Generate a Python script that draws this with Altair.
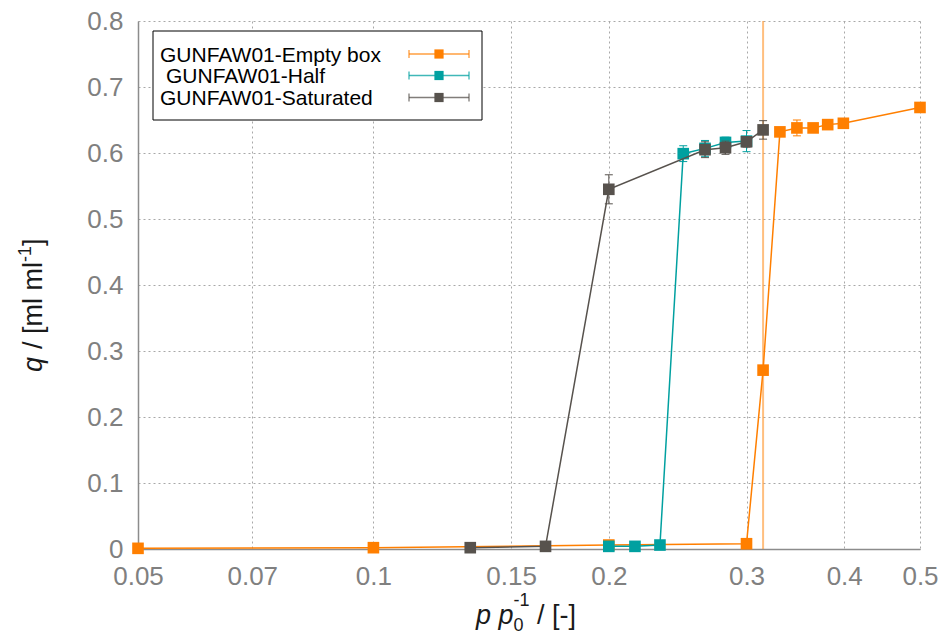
import altair as alt
import pandas as pd

# ---------------- data ----------------
series_names = ["GUNFAW01-Empty box", "GUNFAW01-Half", "GUNFAW01-Saturated"]
legend_labels = ["GUNFAW01-Empty box", "GUNFAW01-Half", "GUNFAW01-Saturated"]
legend_indent = [0, 6, 0]
series_colors = ["#ff7f00", "#00a0a0", "#57524d"]

empty_x = [0.05, 0.1, 0.2, 0.3, 0.315, 0.331, 0.348, 0.365, 0.381, 0.399, 0.5]
empty_q = [0.001, 0.002, 0.006, 0.008, 0.271, 0.632, 0.638, 0.638, 0.643, 0.645, 0.669]
empty_err = [0, 0, 0, 0, 0, 0.006, 0.012, 0.006, 0.006, 0.004, 0.004]

half_x = [0.2, 0.216, 0.2325, 0.249, 0.2655, 0.282, 0.3]
half_q = [0.004, 0.004, 0.006, 0.599, 0.607, 0.616, 0.618]
half_err = [0, 0, 0, 0.012, 0.012, 0.008, 0.016]

sat_x = [0.133, 0.166, 0.2, 0.2655, 0.282, 0.3, 0.315]
sat_q = [0.002, 0.004, 0.545, 0.605, 0.608, 0.617, 0.635]
sat_err = [0, 0, 0.022, 0.012, 0.010, 0.008, 0.014]

marker_x = [0.315]

x_ticks = [0.05, 0.07, 0.1, 0.15, 0.2, 0.3, 0.4, 0.5]
y_ticks = [0, 0.1, 0.2, 0.3, 0.4, 0.5, 0.6, 0.7, 0.8]

# ---------------- helpers ----------------
xscale = alt.Scale(type="log", domain=[0.05, 0.5], nice=False)
yscale = alt.Scale(domain=[0, 0.8], nice=False, zero=False)
xaxis = alt.Axis(values=x_ticks, format="~g", title=None, labelOverlap=False,
                 labelFlush=False, labelPadding=14)
yaxis = alt.Axis(values=y_ticks, format="~g", title=None, labelOverlap=False,
                 labelFlush=False, labelPadding=15)


def X(field="x"):
    return alt.X(f"{field}:Q", scale=xscale, axis=xaxis)


def Y(field="q"):
    return alt.Y(f"{field}:Q", scale=yscale, axis=yaxis)


one_row = pd.DataFrame({"k": [0]})
series_data = [(empty_x, empty_q, empty_err), (half_x, half_q, half_err), (sat_x, sat_q, sat_err)]

layers = []

# vertical marker line
layers.append(
    alt.Chart(pd.DataFrame({"x": marker_x}))
    .mark_rule(color="#ff7f00", opacity=0.5, strokeWidth=2)
    .encode(x=X("x"))
)

for (xs, qs, es), name, col in zip(series_data, series_names, series_colors):
    d = pd.DataFrame({"x": xs, "q": qs, "err": es})
    d["series"] = name
    d["lo"] = d["q"] - d["err"]
    d["hi"] = d["q"] + d["err"]
    de = d[d["err"] > 0]
    layers.append(alt.Chart(d).mark_line(color=col, strokeWidth=1.5).encode(x=X(), y=Y()))
    layers.append(alt.Chart(de).mark_rule(color=col, strokeWidth=1).encode(x=X(), y=Y("lo"), y2="hi:Q"))
    layers.append(alt.Chart(de).mark_tick(color=col, orient="horizontal", size=8, thickness=1, opacity=1).encode(x=X(), y=Y("lo")))
    layers.append(alt.Chart(de).mark_tick(color=col, orient="horizontal", size=8, thickness=1, opacity=1).encode(x=X(), y=Y("hi")))
    layers.append(
        alt.Chart(d)
        .mark_point(shape="square", filled=True, size=135, opacity=1, color=col, strokeWidth=0)
        .encode(x=X(), y=Y())
    )

# ---------------- legend ----------------
layers.append(
    alt.Chart(one_row)
    .mark_rect(fill="white", stroke="black", strokeWidth=1)
    .encode(x=alt.value(15), x2=alt.value(344), y=alt.value(10), y2=alt.value(99))
)
row_cy = [33, 54.5, 76.5]
for label, ind, col, cy in zip(legend_labels, legend_indent, series_colors, row_cy):
    layers.append(
        alt.Chart(one_row)
        .mark_text(align="left", baseline="alphabetic", font="Liberation Sans", fontSize=21, color="black")
        .encode(x=alt.value(22 + ind), y=alt.value(cy + 7.5), text=alt.value(label))
    )
    layers.append(
        alt.Chart(one_row).mark_rule(color=col, strokeWidth=1.5, opacity=0.75)
        .encode(x=alt.value(271), x2=alt.value(331), y=alt.value(cy))
    )
    for cx in (271, 331):
        layers.append(
            alt.Chart(one_row).mark_rule(color=col, strokeWidth=1)
            .encode(x=alt.value(cx), y=alt.value(cy - 4), y2=alt.value(cy + 4))
        )
    layers.append(
        alt.Chart(one_row).mark_point(shape="square", filled=True, size=85, opacity=1, color=col, strokeWidth=0)
        .encode(x=alt.value(301), y=alt.value(cy))
    )

# ---------------- axis titles (rich text) ----------------
def txt(s, x, y, size=27, italic=False, angle=None):
    kw = dict(align="left", baseline="alphabetic", font="Liberation Sans", fontSize=size, color="#1a1a1a")
    if italic:
        kw["fontStyle"] = "italic"
    if angle is not None:
        kw["angle"] = angle
    return alt.Chart(one_row).mark_text(**kw).encode(x=alt.value(x), y=alt.value(y), text=alt.value(s))

# x title: p p0^-1 / [-]
bx, by = 338, 603
layers += [
    txt("p", bx, by, italic=True),
    txt("p", bx + 22.5, by, italic=True),
    txt("0", bx + 37.5, by + 7, size=18),
    txt("-1", bx + 37.5, by - 18, size=18),
    txt("/ [-]", bx + 61, by),
]

# y title: q / [ml ml^-1] rotated
tx, ty = -96, 351
layers += [
    txt("q", tx, ty, italic=True, angle=270),
    txt("/ [ml ml", tx, ty - 23, angle=270),
    txt("-1", tx - 11, ty - 23 - 87, size=18, angle=270),
    txt("]", tx, ty - 23 - 87 - 16, angle=270),
]

chart = (
    alt.layer(*layers)
    .properties(
        width=782,
        height=528,
        autosize=alt.AutoSizeParams(type="none"),
        padding={"left": 138, "top": 21, "right": 26, "bottom": 87},
        background="white",
    )
    .configure_view(stroke=None)
    .configure_axis(
        grid=True,
        gridColor="#a8a8a8",
        gridDash=[2, 3],
        gridWidth=1,
        domainColor="#8c8c8c",
        domainWidth=1.5,
        ticks=False,
        labelFont="Liberation Sans",
        labelFontSize=26,
        labelColor="#808080",
    )
)

chart.save("out.html", embed_options={"renderer": "svg", "actions": False})
